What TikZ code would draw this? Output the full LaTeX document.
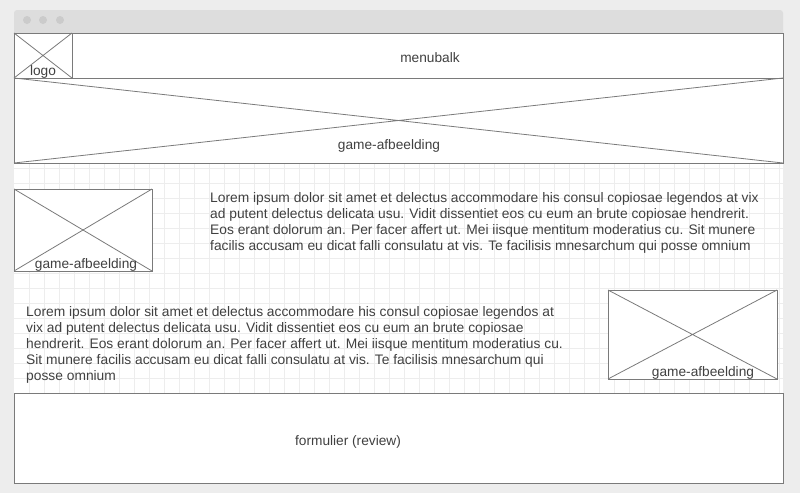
\documentclass[tikz,border=0pt]{standalone}
\usepackage{fontspec}
\setmainfont{Liberation Sans}
\definecolor{outerbg}{HTML}{EDEDED}
\definecolor{barbg}{HTML}{DDDDDD}
\definecolor{dotc}{HTML}{CBCBCB}
\definecolor{gridc}{HTML}{EDEDED}
\definecolor{linec}{HTML}{7A7A7A}
\definecolor{txtc}{HTML}{404040}
\begin{document}
\begin{tikzpicture}[x=1pt,y=-1pt,
  wbox/.style={draw=linec,line width=0.9pt,fill=white},
  xline/.style={draw=linec,line width=0.8pt},
  gridline/.style={draw=gridc,line width=0.6pt},
  lbl/.style={text=txtc,font=\fontsize{13.7}{16}\selectfont,inner sep=0pt},
  para/.style={text=txtc,font=\fontsize{13.8}{16}\selectfont,inner sep=0pt,align=left,anchor=north west}]
\useasboundingbox (0,0) rectangle (800,493);
\fill[outerbg] (0,0) rectangle (800,493);
% window
\fill[barbg,rounded corners=3pt] (14,10) rectangle (783,40);
\fill[white] (14,33) rectangle (783,484);
\foreach \gx in {29,44,...,783} {\draw[gridline] (\gx,33) -- (\gx,484);}
\foreach \gy in {48,63,...,484} {\draw[gridline] (14,\gy) -- (783,\gy);}
\fill[dotc] (27,20) circle (4) (43,20) circle (4) (60,20) circle (4);
% menubalk
\draw[wbox] (14,33) rectangle (783,78);
\node[lbl] (menu) at (430,58) {menubalk};
% logo
\draw[wbox] (14,33) rectangle (72,78);
\draw[xline] (14,33) -- (72,78) (14,78) -- (72,33);
\node[lbl] (logo) at (43,72) {logo};
% banner
\draw[wbox] (14,78) rectangle (783,163);
\draw[xline] (14,78) -- (783,163) (14,163) -- (783,78);
\node[lbl] (banner) at (389,146) {game-afbeelding};
% image 1
\draw[wbox] (14,189) rectangle (152,271);
\draw[xline] (14,189) -- (152,271) (14,271) -- (152,189);
\node[lbl] (img1) at (86,265) {game-afbeelding};
% text 1
\node[para] (txt1) at (210,192) {Lorem ipsum dolor sit amet et delectus accommodare his consul copiosae legendos at vix\\
ad putent delectus delicata usu. Vidit dissentiet eos cu eum an brute copiosae hendrerit.\\
Eos erant dolorum an. Per facer affert ut. Mei iisque mentitum moderatius cu. Sit munere\\
facilis accusam eu dicat falli consulatu at vis. Te facilisis mnesarchum qui posse omnium};
% text 2
\node[para] (txt2) at (26,306) {Lorem ipsum dolor sit amet et delectus accommodare his consul copiosae legendos at\\
vix ad putent delectus delicata usu. Vidit dissentiet eos cu eum an brute copiosae\\
hendrerit. Eos erant dolorum an. Per facer affert ut. Mei iisque mentitum moderatius cu.\\
Sit munere facilis accusam eu dicat falli consulatu at vis. Te facilisis mnesarchum qui\\
posse omnium};
% image 2
\draw[wbox] (608,290) rectangle (777,379);
\draw[xline] (608,290) -- (777,379) (608,379) -- (777,290);
\node[lbl] (img2) at (703,373) {game-afbeelding};
% form
\draw[wbox] (14,393) rectangle (783,483);
\node[lbl] (form) at (348,442) {formulier (review)};
\end{tikzpicture}
\end{document}
